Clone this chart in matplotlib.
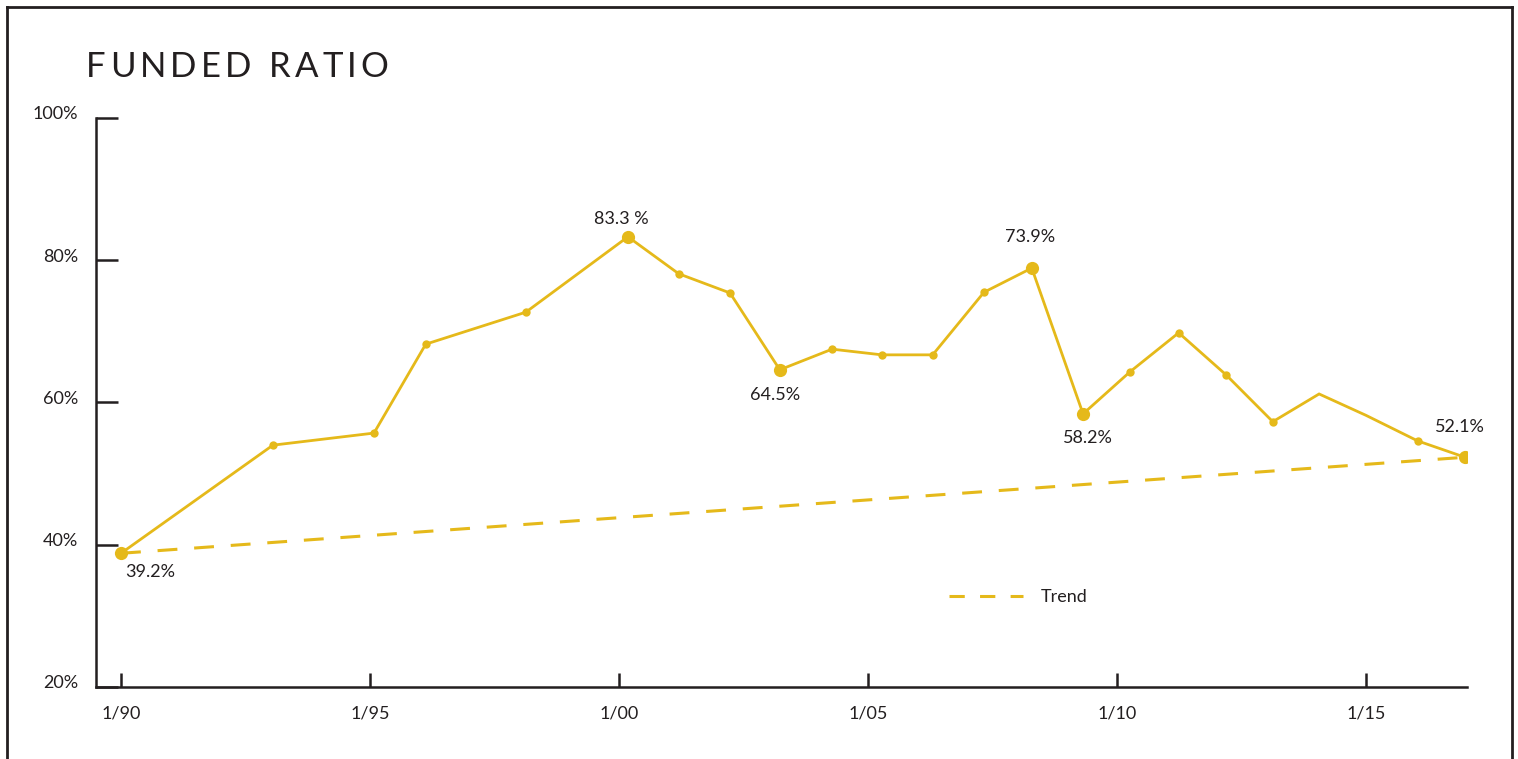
import matplotlib
matplotlib.use("Agg")
import matplotlib.pyplot as plt
from matplotlib.lines import Line2D
from matplotlib.transforms import ScaledTranslation

# ---- data ----
years = [1990.0, 1993.05, 1995.08, 1996.12, 1998.13, 2000.18, 2001.2, 2002.23,
         2003.23, 2004.28, 2005.28, 2006.3, 2007.33, 2008.29, 2009.32, 2010.26,
         2011.24, 2012.19, 2013.13, 2014.06, 2015.0, 2016.04, 2016.99]
funded = [38.8, 54.0, 55.7, 68.2, 72.7, 83.3, 78.1, 75.4,
          64.6, 67.5, 66.7, 66.7, 75.5, 78.9, 58.4, 64.3,
          69.8, 63.9, 57.3, 61.2, 58.2, 54.6, 52.3]
# marker style per point: 2 = large (labelled), 1 = small, 0 = none
marker_kind = [2, 1, 1, 1, 1, 2, 1, 1,
               2, 1, 1, 1, 1, 2, 2, 1,
               1, 1, 1, 0, 0, 1, 2]
trend_years = [1990.0, 2016.99]
trend_values = [38.8, 52.3]
label_texts = ["39.2%", "83.3 %", "64.5%", "73.9%", "58.2%", "52.1%"]
label_index = [0, 5, 8, 13, 14, 22]
x_ticks = [1990, 1995, 2000, 2005, 2010, 2015]
x_tick_labels = ["1/90", "1/95", "1/00", "1/05", "1/10", "1/15"]
y_ticks = [20, 40, 60, 80, 100]
y_tick_labels = ["20%", "40%", "60%", "80%", "100%"]
title = "FUNDED RATIO"

GOLD = "#E5B91A"
INK = "#231F20"
FONT = "Lato"

plt.rcParams["font.family"] = [FONT, "DejaVu Sans"]

fig = plt.figure(figsize=(15.18, 7.59), dpi=100)
W, H = 1518, 759
ax = fig.add_axes([96 / W, 1 - 687 / H, (1467 - 96) / W, (687 - 118) / H])

ax.set_xlim(1989.498, 2017.03)
ax.set_ylim(20, 100)

# trend
ax.plot(trend_years, trend_values, color=GOLD, lw=2.2, dashes=(6.5, 5.5),
        solid_capstyle="butt", zorder=2)
# main line
ax.plot(years, funded, color=GOLD, lw=2.0, zorder=3, solid_joinstyle="miter")
small_x = [x for x, k in zip(years, marker_kind) if k == 1]
small_y = [y for y, k in zip(funded, marker_kind) if k == 1]
big_x = [x for x, k in zip(years, marker_kind) if k == 2]
big_y = [y for y, k in zip(funded, marker_kind) if k == 2]
ax.plot(small_x, small_y, "o", color=GOLD, ms=6, mec="none", zorder=4)
ax.plot(big_x, big_y, "o", color=GOLD, ms=9.5, mec="none", zorder=4)

# value labels (pixel offsets)
offsets = [(29, -19), (-7, 18), (-5, -25), (-2, 31), (5, -24), (-5, 30)]
for txt, i, (dx, dy) in zip(label_texts, label_index, offsets):
    ax.annotate(txt, (years[i], funded[i]), xytext=(dx * 0.72, dy * 0.72),
                textcoords="offset points", ha="center", va="center",
                fontsize=13, color=INK)

# spines & ticks
for s in ["top", "right"]:
    ax.spines[s].set_visible(False)
for s in ["left", "bottom"]:
    ax.spines[s].set_color(INK)
    ax.spines[s].set_linewidth(1.8)
ax.set_xticks(x_ticks)
ax.set_xticklabels(x_tick_labels)
ax.set_yticks(y_ticks)
ax.set_yticklabels(y_tick_labels)
ax.tick_params(axis="x", direction="in", length=10, width=1.8, color=INK,
               labelsize=13, labelcolor=INK, pad=13)
ax.tick_params(axis="y", direction="in", length=16, width=1.8, color=INK,
               labelsize=13, labelcolor=INK, pad=13)
shift = ScaledTranslation(0, 5 / 100, fig.dpi_scale_trans)
for lab in ax.get_yticklabels():
    lab.set_transform(lab.get_transform() + shift)

# legend
leg_handle = Line2D([0], [0], color=GOLD, lw=2.2, dashes=(5, 5))
ax.legend([leg_handle], ["Trend"], loc="center left",
          bbox_to_anchor=((949 - 96) / (1467 - 96), (687 - 597) / (687 - 118)),
          frameon=False, fontsize=13, handlelength=4.1, handletextpad=1.0,
          labelcolor=INK, borderpad=0, borderaxespad=0)

# title with letter spacing
renderer = fig.canvas.get_renderer()
x_px = 86.0
track = 4.2
for ch in title:
    t = fig.text(x_px / W, 1 - 77 / H, ch, fontsize=25, color=INK,
                 ha="left", va="baseline")
    if ch == " ":
        w = 9.0
    else:
        w = t.get_window_extent(renderer).width
    x_px += w + track

# outer frame (top, left, right)
fr = dict(color=INK, lw=2.0, transform=fig.transFigure)
fig.add_artist(Line2D([7 / W, 1512 / W], [1 - 7 / H, 1 - 7 / H], **fr))
fig.add_artist(Line2D([7 / W, 7 / W], [0, 1 - 7 / H], **fr))
fig.add_artist(Line2D([1512 / W, 1512 / W], [0, 1 - 7 / H], **fr))

fig.savefig("out.png", dpi=100, facecolor="white")
